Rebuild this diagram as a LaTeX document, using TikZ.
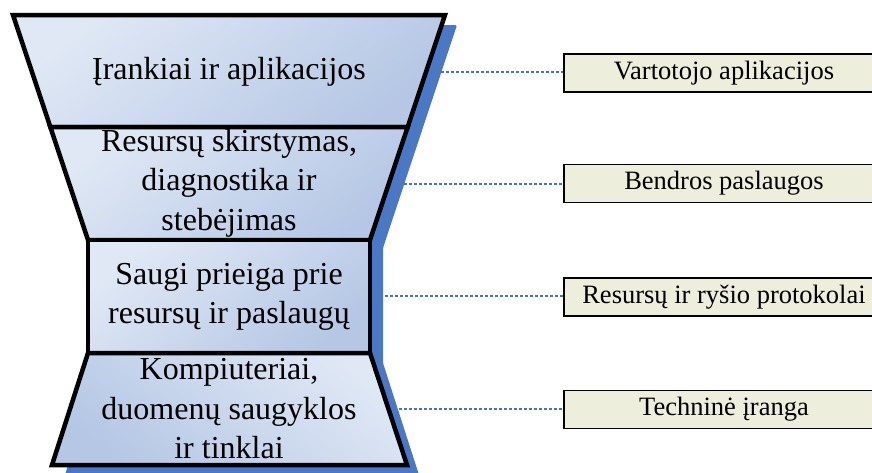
\documentclass[tikz,border=0pt]{standalone}
\usepackage{fontspec}
\setmainfont{Liberation Serif}
\definecolor{shadowblue}{HTML}{4A78C4}
\definecolor{lightb}{HTML}{E0E8F5}
\definecolor{darkb}{HTML}{B5C7E5}
\definecolor{boxfill}{HTML}{EEEEDC}
\definecolor{linkblue}{HTML}{4472C4}
\begin{document}
\begin{tikzpicture}[x=1pt,y=-1pt,
  layer/.style={draw=black,line width=4.5pt,line join=miter,top color=lightb,bottom color=darkb,shading angle=40},
  layertext/.style={font=\fontsize{32}{39.5}\selectfont,align=center,text=black},
  rbox/.style={draw=black,line width=1.4pt,fill=boxfill,minimum width=320pt,minimum height=38pt,inner sep=0pt,font=\fontsize{26.5}{30}\selectfont},
  link/.style={draw=linkblue,line width=1.2pt,dash pattern=on 3pt off 2pt}]
\useasboundingbox (0,0) rectangle (872,472);
% right boxes
\node[rbox] (b1) at (724,73) {Vartotojo aplikacijos};
\node[rbox] (b2) at (724,183.5) {Bendros paslaugos};
\node[rbox] (b3) at (724,297) {Resursų ir ryšio protokolai};
\node[rbox] (b4) at (724,409.5) {Techninė įranga};
% connector start points on the hourglass edge
\coordinate (e1) at (426,72);
\coordinate (e2) at (388.7,184);
\coordinate (e3) at (370,296);
\coordinate (e4) at (388.5,409);
\draw[link] (e1) -- (e1 -| b1.west);
\draw[link] (e2) -- (e2 -| b2.west);
\draw[link] (e3) -- (e3 -| b3.west);
\draw[link] (e4) -- (e4 -| b4.west);
% shadow
\fill[shadowblue,rounded corners=1.5pt] (25,25) -- (457,25) -- (383,248) -- (383,363) -- (420,478) -- (64,478) -- (100,363) -- (100,250) -- cycle;
% layers
\path[layer] (13,15) -- (445,15) -- (407.7,127) -- (50.3,127) -- cycle;
\path[layer] (50.3,127) -- (407.7,127) -- (370,240) -- (88,240) -- cycle;
\path[layer] (88,240) -- (370,240) -- (370,353) -- (88,353) -- cycle;
\path[layer,shading angle=-40] (88,353) -- (370,353) -- (407,465) -- (52,465) -- cycle;
% texts
\node[layertext] (t1) at (229,72) {Įrankiai ir aplikacijos};
\node[layertext] (t2) at (229,183) {Resursų skirstymas,\\diagnostika ir\\stebėjimas};
\node[layertext] (t3) at (229,297) {Saugi prieiga prie\\resursų ir paslaugų};
\node[layertext] (t4) at (229,409) {Kompiuteriai,\\duomenų saugyklos\\ir tinklai};
\end{tikzpicture}
\end{document}
